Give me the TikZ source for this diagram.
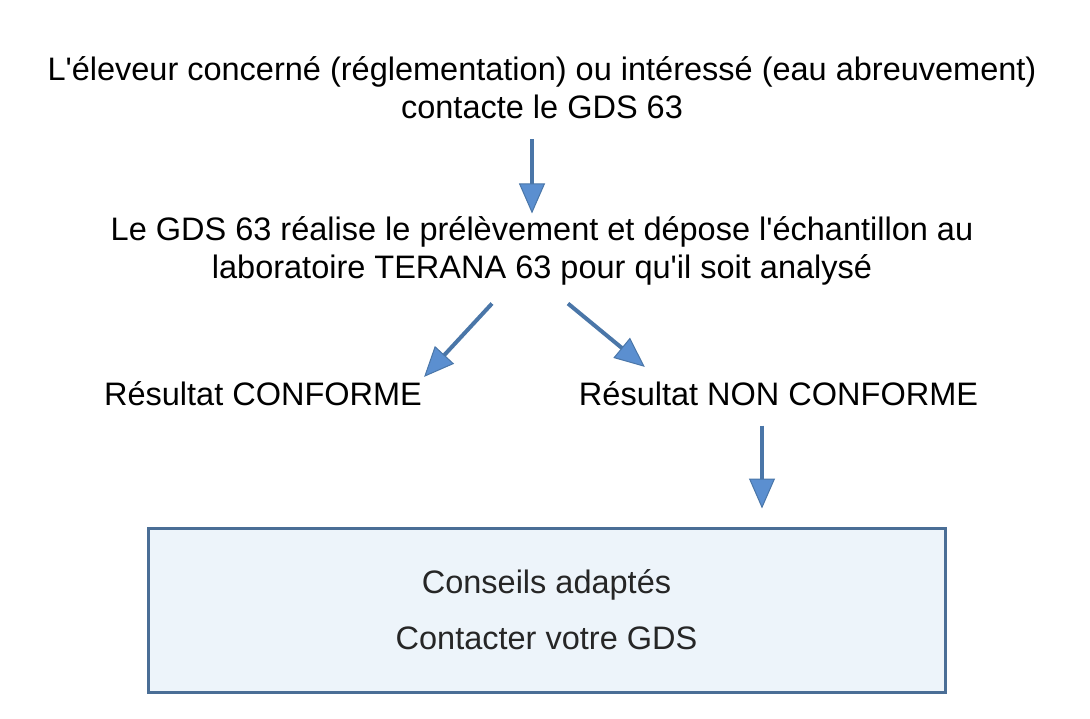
\documentclass[tikz,border=0pt]{standalone}
\usepackage{fontspec}
\setmainfont{Liberation Sans}
\usetikzlibrary{arrows.meta}
\definecolor{shaftblue}{HTML}{4A76A8}
\definecolor{headblue}{HTML}{5B8FD0}
\definecolor{boxfill}{HTML}{EDF4FA}
\definecolor{boxline}{HTML}{4A6E96}
\tikzset{
  step text/.style={inner sep=0pt, align=center, font=\fontsize{32.5}{38}\selectfont},
  flow/.style={draw=shaftblue, line width=4pt,
    -{Triangle[width=26pt,length=30pt,fill=headblue,line width=1pt]}},
}
\begin{document}
\begin{tikzpicture}[x=1pt, y=-1pt]
  \useasboundingbox (0,0) rectangle (1090,718);
  \node[step text] (eleveur) at (542,88) {L\textquotesingle éleveur concerné (réglementation) ou intéressé (eau abreuvement)\\contacte le GDS 63};
  \node[step text] (prelev) at (542,251) {Le GDS 63 réalise le prélèvement et dépose l\textquotesingle échantillon au\\laboratoire TERANA 63 pour qu\textquotesingle il soit analysé};
  \node[step text, anchor=base] (conforme) at (263,405) {Résultat CONFORME};
  \node[step text, anchor=base] (nonconf) at (778.5,405) {Résultat NON CONFORME};
  \node[step text, draw=boxline, line width=3pt, fill=boxfill,
        minimum width=797pt, minimum height=164pt, text=black!85,
        font=\fontsize{32.5}{58}\selectfont] (conseils) at (546.5,610)
        {Conseils adaptés\\[-2pt]Contacter votre GDS};
  % fleches
  \draw[flow] ([xshift=-10pt, yshift=-20pt]eleveur.south) -- ([xshift=-10pt, yshift=3pt]prelev.north);
  \draw[flow] ([xshift=-50pt, yshift=-18pt]prelev.south) -- ([xshift=2pt, yshift=4pt]conforme.north east);
  \draw[flow] ([xshift=26pt, yshift=-18pt]prelev.south) -- ([xshift=66pt, yshift=14pt]nonconf.north west);
  \draw[flow] ([xshift=-16.5pt, yshift=-20pt]nonconf.south) -- ([xshift=215.5pt, yshift=18pt]conseils.north);
\end{tikzpicture}
\end{document}
